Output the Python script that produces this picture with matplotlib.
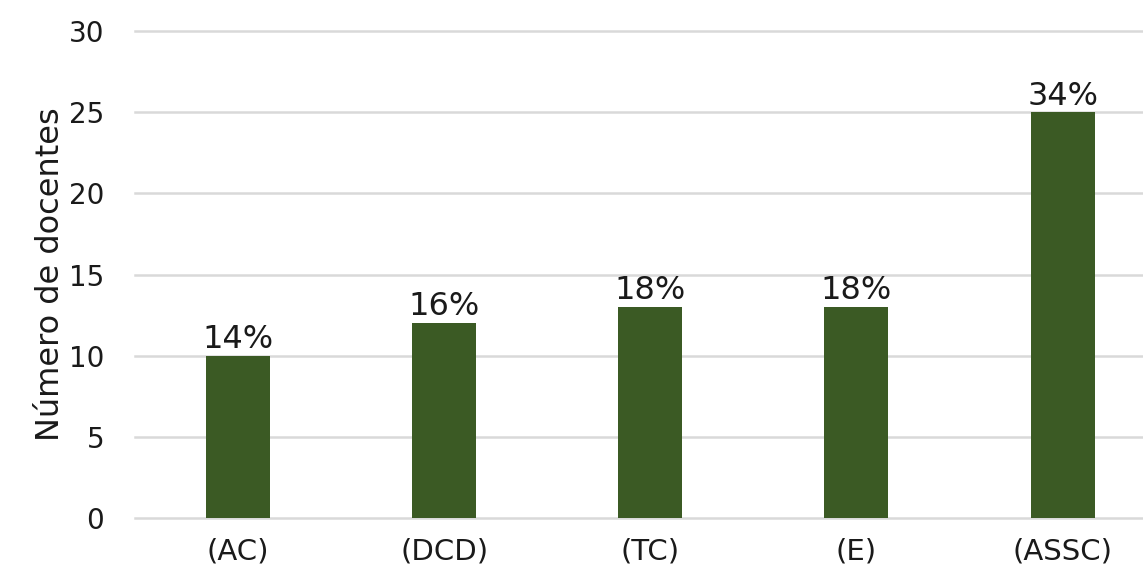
import matplotlib
matplotlib.use("Agg")
import matplotlib.pyplot as plt

# data
categories = ["(AC)", "(DCD)", "(TC)", "(E)", "(ASSC)"]
docentes = [10, 12, 13, 13, 25]
percent_labels = ["14%", "16%", "18%", "18%", "34%"]

plt.rcParams['font.family'] = ['DejaVu Sans']

fig = plt.figure(figsize=(11.43, 5.78), dpi=100)
ax = fig.add_axes([0.118, 0.104, 0.882, 0.842])

x = list(range(len(categories)))
bars = ax.bar(x, docentes, width=0.31, color="#3b5a24", zorder=3)

for b, lab in zip(bars, percent_labels):
    ax.text(b.get_x() + b.get_width() / 2, b.get_height() + 0.05, lab,
            ha="center", va="bottom", fontsize=23, color="#1a1a1a")

ax.set_ylim(0, 30)
ax.set_yticks(range(0, 31, 5))
ax.set_xlim(-0.5, 4.39)
ax.set_xticks(x)
ax.set_xticklabels(categories)
ax.grid(axis="y", color="#d9d9d9", linewidth=1.8, zorder=0)
for gl in ax.get_ygridlines():
    gl.set_clip_on(False)
for s in ax.spines.values():
    s.set_visible(False)
ax.tick_params(axis="y", length=0, labelsize=20, colors="#1a1a1a", pad=22)
ax.tick_params(axis="x", length=0, labelsize=21, colors="#1a1a1a", pad=14)
ax.set_ylabel("Número de docentes", fontsize=23, color="#1a1a1a", labelpad=2)

fig.savefig("out.png", dpi=100)
